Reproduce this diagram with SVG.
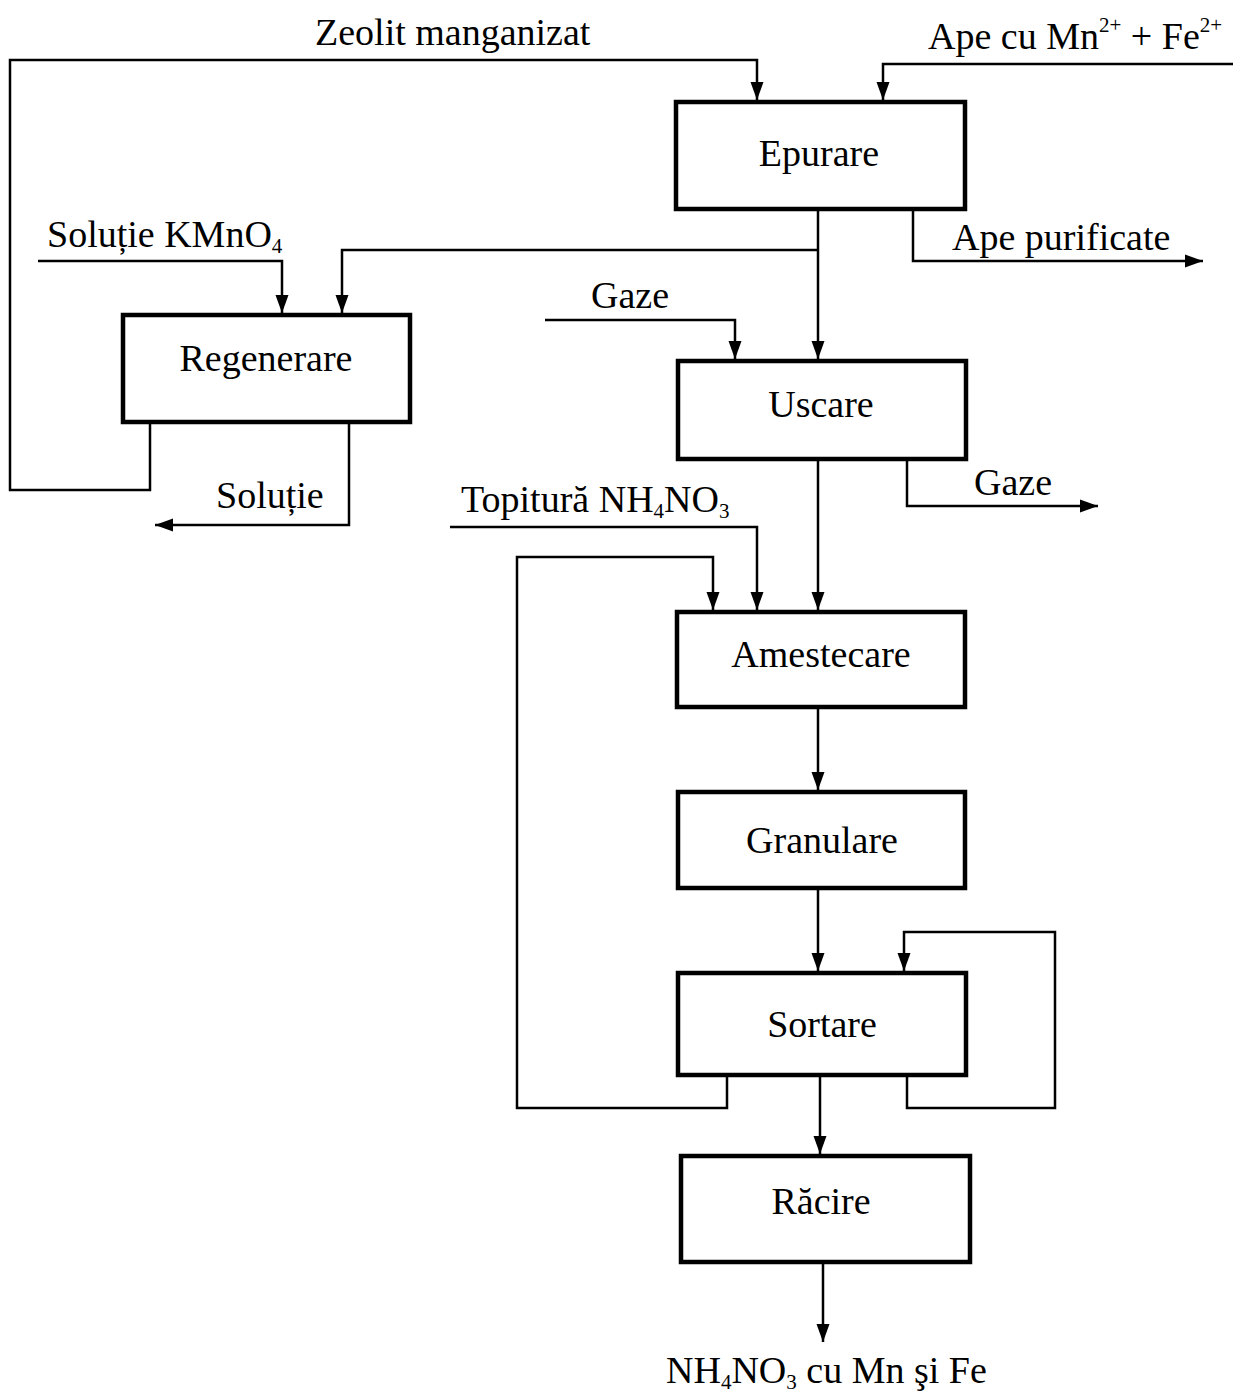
<svg xmlns="http://www.w3.org/2000/svg" width="1233" height="1393" viewBox="0 0 1233 1393">
  <style>
    .box { fill: #fff; stroke: #000; stroke-width: 4.5; }
    .lbl { font-family: "Liberation Serif", "Times New Roman", serif; font-size: 38px; fill: #000; }
    .mid { text-anchor: middle; }
    .sub { font-size: 21px; }
    .flow { fill: none; stroke: #000; stroke-width: 2.5; }
  </style>
  <defs>
    <marker id="arr" markerUnits="userSpaceOnUse" markerWidth="18" markerHeight="18" viewBox="0 0 18 18" refX="18" refY="9" orient="auto">
      <path d="M0,2.5 L18,9 L0,15.5 Z" fill="#000"/>
    </marker>
  </defs>

  <rect width="1233" height="1393" fill="#fff"/>

  <!-- connectors -->
  <g id="connectors">
    <!-- manganized zeolite recycle from Regenerare to Epurare -->
    <polyline class="flow" points="150,423 150,490 10,490 10,60 757,60 757,100" marker-end="url(#arr)"/>
    <!-- raw water feed -->
    <polyline class="flow" points="1233,64 883,64 883,100" marker-end="url(#arr)"/>
    <!-- Epurare -> Uscare -->
    <polyline class="flow" points="818,209 818,359" marker-end="url(#arr)"/>
    <!-- branch to Regenerare -->
    <polyline class="flow" points="818,250 342,250 342,313" marker-end="url(#arr)"/>
    <!-- purified water out -->
    <polyline class="flow" points="913,209 913,261 1203,261" marker-end="url(#arr)"/>
    <!-- KMnO4 solution in -->
    <polyline class="flow" points="38,261 282,261 282,313" marker-end="url(#arr)"/>
    <!-- spent solution out -->
    <polyline class="flow" points="349,423 349,525 155,525" marker-end="url(#arr)"/>
    <!-- drying gases in -->
    <polyline class="flow" points="545,320 735,320 735,359" marker-end="url(#arr)"/>
    <!-- drying gases out -->
    <polyline class="flow" points="907,459 907,506 1098,506" marker-end="url(#arr)"/>
    <!-- Uscare -> Amestecare -->
    <polyline class="flow" points="818,459 818,610" marker-end="url(#arr)"/>
    <!-- ammonium nitrate melt in -->
    <polyline class="flow" points="450,527 757,527 757,610" marker-end="url(#arr)"/>
    <!-- fines recycle from Sortare to Amestecare -->
    <polyline class="flow" points="727,1075 727,1108 517,1108 517,557 713,557 713,610" marker-end="url(#arr)"/>
    <!-- Amestecare -> Granulare -->
    <polyline class="flow" points="818,707 818,790" marker-end="url(#arr)"/>
    <!-- Granulare -> Sortare -->
    <polyline class="flow" points="818,888 818,971" marker-end="url(#arr)"/>
    <!-- oversize recycle back to Sortare -->
    <polyline class="flow" points="907,1075 907,1108 1055,1108 1055,932 904,932 904,971" marker-end="url(#arr)"/>
    <!-- Sortare -> Racire -->
    <polyline class="flow" points="820,1075 820,1154" marker-end="url(#arr)"/>
    <!-- product out -->
    <polyline class="flow" points="823,1262 823,1342" marker-end="url(#arr)"/>
  </g>

  <!-- stream labels -->
  <g id="labels">
    <text class="lbl" x="315" y="45">Zeolit manganizat</text>
    <text class="lbl" x="928" y="49">Ape cu Mn<tspan class="sub" dy="-17">2+</tspan><tspan dy="17"> + Fe</tspan><tspan class="sub" dy="-17">2+</tspan></text>
    <text class="lbl" x="952" y="250">Ape purificate</text>
    <text class="lbl" x="47" y="247">Soluție KMnO<tspan class="sub" dy="6">4</tspan></text>
    <text class="lbl" x="591" y="308">Gaze</text>
    <text class="lbl" x="974" y="495">Gaze</text>
    <text class="lbl" x="216" y="508">Soluție</text>
    <text class="lbl" x="461" y="512">Topitură NH<tspan class="sub" dy="6">4</tspan><tspan dy="-6">NO</tspan><tspan class="sub" dy="6">3</tspan></text>
    <text class="lbl" x="666" y="1383">NH<tspan class="sub" dy="6">4</tspan><tspan dy="-6">NO</tspan><tspan class="sub" dy="6">3</tspan><tspan dy="-6"> cu Mn şi Fe</tspan></text>
  </g>

  <!-- process units -->
  <g id="epurare">
    <rect class="box" x="676" y="102" width="289" height="107"/>
    <text class="lbl mid" x="819" y="166">Epurare</text>
  </g>
  <g id="regenerare">
    <rect class="box" x="123" y="315" width="287" height="107"/>
    <text class="lbl mid" x="266" y="371">Regenerare</text>
  </g>
  <g id="uscare">
    <rect class="box" x="678" y="361" width="288" height="98"/>
    <text class="lbl mid" x="821" y="417">Uscare</text>
  </g>
  <g id="amestecare">
    <rect class="box" x="677" y="612" width="288" height="95"/>
    <text class="lbl mid" x="821" y="667">Amestecare</text>
  </g>
  <g id="granulare">
    <rect class="box" x="678" y="792" width="287" height="96"/>
    <text class="lbl mid" x="822" y="853">Granulare</text>
  </g>
  <g id="sortare">
    <rect class="box" x="678" y="973" width="288" height="102"/>
    <text class="lbl mid" x="822" y="1037">Sortare</text>
  </g>
  <g id="racire">
    <rect class="box" x="681" y="1156" width="289" height="106"/>
    <text class="lbl mid" x="821" y="1214">Răcire</text>
  </g>
</svg>
